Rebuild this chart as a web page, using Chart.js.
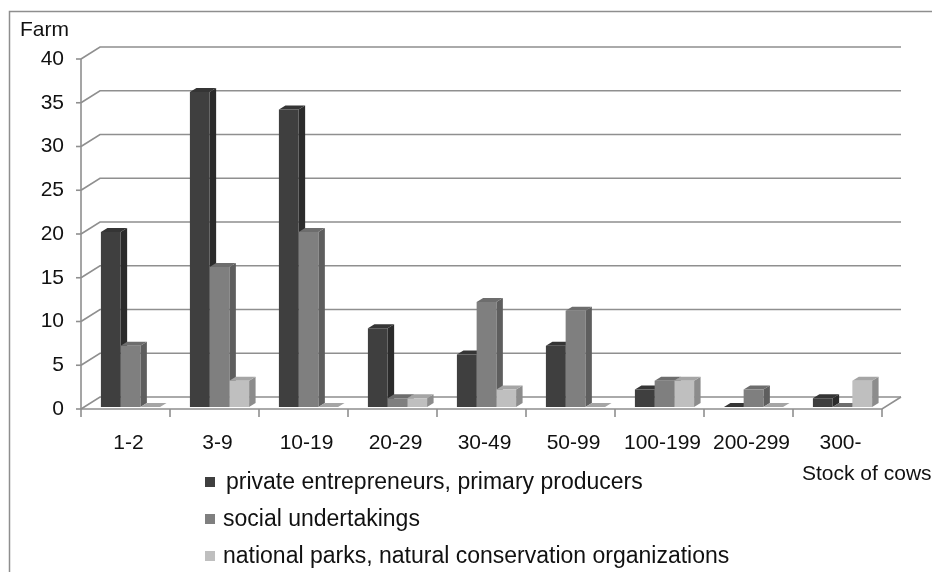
<!DOCTYPE html>
<html>
<head>
<meta charset="utf-8">
<title>Farms by stock of cows</title>
<script src="https://cdn.jsdelivr.net/npm/chart.js@4.4.1/dist/chart.umd.min.js"></script>
<style>
  html, body { margin: 0; padding: 0; background: #ffffff; }
  canvas { display: block; }
</style>
</head>
<body>
<canvas id="chart" width="932" height="572"></canvas>
<script>
// Herd size groups (stock of cows) and number of farms per owner type
const categories = ['1-2', '3-9', '10-19', '20-29', '30-49', '50-99', '100-199', '200-299', '300-'];
const privateProducers = [20, 36, 34, 9, 6, 7, 2, 0, 1];
const socialUndertakings = [7, 16, 20, 1, 12, 11, 3, 2, 0];
const nationalParks = [0, 3, 0, 1, 2, 0, 3, 0, 3];
const seriesNames = [
  'private entrepreneurs, primary producers',
  'social undertakings',
  'national parks, natural conservation organizations'
];
const yMax = 40;
const yStep = 5;

const FONT = "'Liberation Sans', Arial, sans-serif";

// Shades for the three faces of each box: front, top, side
const shades = [
  { front: '#3f3f3f', top: '#353535', side: '#2b2b2b' },
  { front: '#7f7f7f', top: '#6d6d6d', side: '#5e5e5e' },
  { front: '#bfbfbf', top: '#a5a5a5', side: '#8c8c8c' }
];

// Pseudo-3D geometry: axis plane relative to the bar plane, back wall
// relative to the axis plane, and the depth of each box.
const AXIS_SHIFT = { dx: -5, dy: 2 };
const WALL_SHIFT = { dx: 19, dy: -12 };
const BOX_DEPTH = { dx: 6.5, dy: -4 };
const GRID_COLOR = '#8f8f8f';

const frame3d = {
  id: 'frame3d',
  beforeDraw(chart) {
    const { ctx, width, height } = chart;
    ctx.save();
    ctx.fillStyle = '#ffffff';
    ctx.fillRect(0, 0, width, height);
    ctx.strokeStyle = '#8e8e8e';
    ctx.lineWidth = 1.5;
    ctx.beginPath();
    ctx.moveTo(9.5, height);
    ctx.lineTo(9.5, 11.5);
    ctx.lineTo(width, 11.5);
    ctx.stroke();
    ctx.restore();
  },
  beforeDatasetsDraw(chart) {
    const { ctx, chartArea: a, scales: { x, y } } = chart;
    const left = a.left + AXIS_SHIFT.dx;
    const right = a.right + AXIS_SHIFT.dx;
    const fy = v => y.getPixelForValue(v) + AXIS_SHIFT.dy;

    ctx.save();
    ctx.lineWidth = 1.6;
    ctx.strokeStyle = GRID_COLOR;
    ctx.lineCap = 'butt';

    // side wall diagonals + back wall gridlines
    y.ticks.forEach(t => {
      const yy = fy(t.value);
      ctx.beginPath();
      ctx.moveTo(left, yy);
      ctx.lineTo(left + WALL_SHIFT.dx, yy + WALL_SHIFT.dy);
      ctx.lineTo(right + WALL_SHIFT.dx, yy + WALL_SHIFT.dy);
      ctx.stroke();
      // tick mark on the value axis
      ctx.beginPath();
      ctx.moveTo(left - 5, yy);
      ctx.lineTo(left, yy);
      ctx.stroke();
    });

    // value axis line
    ctx.beginPath();
    ctx.moveTo(left, fy(0));
    ctx.lineTo(left, fy(yMax));
    ctx.stroke();

    // floor front and right edges
    const y0 = fy(0);
    ctx.beginPath();
    ctx.moveTo(left, y0);
    ctx.lineTo(right, y0);
    ctx.lineTo(right + WALL_SHIFT.dx, y0 + WALL_SHIFT.dy);
    ctx.stroke();

    // category boundary ticks below the floor
    const n = categories.length;
    const step = (right - left) / n;
    for (let i = 0; i <= n; i++) {
      const xx = left + i * step;
      ctx.beginPath();
      ctx.moveTo(xx, y0);
      ctx.lineTo(xx, y0 + 8);
      ctx.stroke();
    }

    // side and top faces of every box, left to right
    const metas = chart.data.datasets.map((_, d) => chart.getDatasetMeta(d));
    for (let i = 0; i < n; i++) {
      metas.forEach((meta, d) => {
        const el = meta.data[i];
        if (!el) return;
        const p = el.getProps(['x', 'y', 'base', 'width'], true);
        const l = p.x - p.width / 2;
        const r = p.x + p.width / 2;
        const top = Math.min(p.y, p.base);
        const bot = Math.max(p.y, p.base);
        // side face
        ctx.fillStyle = shades[d].side;
        ctx.beginPath();
        ctx.moveTo(r, top);
        ctx.lineTo(r + BOX_DEPTH.dx, top + BOX_DEPTH.dy);
        ctx.lineTo(r + BOX_DEPTH.dx, bot + BOX_DEPTH.dy);
        ctx.lineTo(r, bot);
        ctx.closePath();
        ctx.fill();
        // top face
        ctx.fillStyle = shades[d].top;
        ctx.beginPath();
        ctx.moveTo(l, top);
        ctx.lineTo(l + BOX_DEPTH.dx, top + BOX_DEPTH.dy);
        ctx.lineTo(r + BOX_DEPTH.dx, top + BOX_DEPTH.dy);
        ctx.lineTo(r, top);
        ctx.closePath();
        ctx.fill();
      });
    }
    ctx.restore();
  },
  afterDraw(chart) {
    const { ctx } = chart;
    ctx.save();
    ctx.fillStyle = '#111111';
    ctx.textBaseline = 'middle';
    ctx.textAlign = 'left';

    // axis titles
    ctx.font = '21px ' + FONT;
    ctx.fillText('Farm', 20, 30);
    ctx.fillText('Stock of cows', 802, 474);

    // legend, one series per line
    const rows = [482, 519, 556];
    ctx.font = '23px ' + FONT;
    chart.data.datasets.forEach((ds, d) => {
      const cy = rows[d];
      ctx.fillStyle = ds.backgroundColor;
      ctx.fillRect(205, cy - 5, 10, 10);
      ctx.fillStyle = '#111111';
      ctx.fillText(ds.label, d === 0 ? 226 : 223, cy + 1);
    });
    ctx.restore();
  }
};

const seriesValues = [privateProducers, socialUndertakings, nationalParks];

new Chart(document.getElementById('chart'), {
  type: 'bar',
  data: {
    labels: categories,
    datasets: seriesValues.map((values, d) => ({
      label: seriesNames[d],
      data: values,
      backgroundColor: shades[d].front,
      borderWidth: 0,
      categoryPercentage: 0.665,
      barPercentage: 1.0
    }))
  },
  options: {
    responsive: false,
    animation: false,
    layout: { padding: { top: 57, right: 45, left: 0, bottom: 0 } },
    plugins: {
      legend: { display: false },
      tooltip: { enabled: false }
    },
    scales: {
      x: {
        grid: { display: false, drawTicks: false },
        border: { display: false },
        ticks: {
          color: '#111111',
          font: { family: FONT, size: 21 },
          padding: 24,
          labelOffset: -2,
          maxRotation: 0,
          autoSkip: false
        },
        afterFit(scale) { scale.height = 165; }
      },
      y: {
        min: 0,
        max: yMax,
        grid: { display: false, drawTicks: false },
        border: { display: false },
        ticks: {
          stepSize: yStep,
          color: '#111111',
          font: { family: FONT, size: 21 },
          padding: 22,
          labelOffset: 2
        },
        afterFit(scale) { scale.width = 86; }
      }
    }
  },
  plugins: [frame3d]
});
</script>
</body>
</html>
